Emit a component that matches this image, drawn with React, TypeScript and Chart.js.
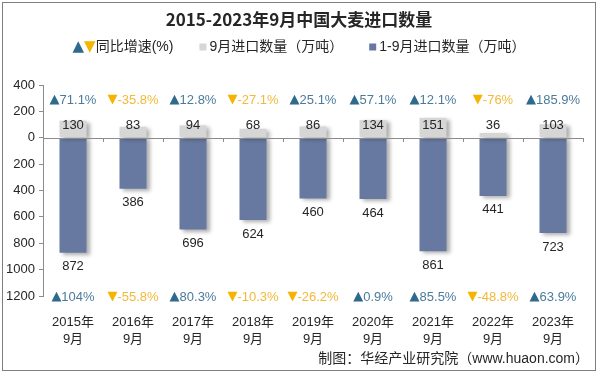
import React, { useEffect, useRef } from 'react';
import { Chart, registerables } from 'chart.js';

Chart.register(...registerables);

const years = ['2015年', '2016年', '2017年', '2018年', '2019年', '2020年', '2021年', '2022年', '2023年'];
const monthLabel = '9月';
const septImports = [130, 83, 94, 68, 86, 134, 151, 36, 103];
const cumImports = [872, 386, 696, 624, 460, 464, 861, 441, 723];
const septYoY = [71.1, -35.8, 12.8, -27.1, 25.1, 57.1, 12.1, -76, 185.9];
const cumYoY = [104, -55.8, 80.3, -10.3, -26.2, 0.9, 85.5, -48.8, 63.9];
const yMin = -1200;
const yMax = 400;
const yStep = 200;

const titleText = '2015-2023年9月中国大麦进口数量';
const legendYoY = '同比增速(%)';
const legendSept = '9月进口数量（万吨）';
const legendCum = '1-9月进口数量（万吨）';
const sourceText = '制图：华经产业研究院（www.huaon.com）';

const FONT = '"Liberation Sans", "Noto Sans CJK SC", sans-serif';
const TRI_FONT = '"DejaVu Sans", sans-serif';
const GRAY_BAR = '#d6d6d6';
const BLUE_BAR = '#6879a1';
const UP_TRI = '#2f6a8e';
const UP_TXT = '#4b7b9b';
const DN_TRI = '#f5b400';
const DN_TXT = '#f2b93a';
const TEXT = '#262626';

function drawYoY(ctx: CanvasRenderingContext2D, x: number, y: number, v: number) {
  const up = v >= 0;
  const tri = up ? '▲' : '▼';
  const txt = `${v}%`;
  ctx.font = `13px ${TRI_FONT}`;
  const wTri = ctx.measureText(tri).width;
  ctx.font = `13px ${FONT}`;
  const wTxt = ctx.measureText(txt).width;
  const start = x - (wTri + wTxt) / 2;
  ctx.textAlign = 'left';
  ctx.textBaseline = 'middle';
  ctx.font = `13px ${TRI_FONT}`;
  ctx.fillStyle = up ? UP_TRI : DN_TRI;
  ctx.fillText(tri, start, y);
  ctx.font = `13px ${FONT}`;
  ctx.fillStyle = up ? UP_TXT : DN_TXT;
  ctx.fillText(txt, start + wTri, y);
}

const overlay = {
  id: 'overlay',
  beforeDatasetsDraw(chart: any) {
    const ctx = chart.ctx;
    ctx.save();
    ctx.shadowColor = 'rgba(0,0,0,0.32)';
    ctx.shadowBlur = 4;
    ctx.shadowOffsetX = 3;
    ctx.shadowOffsetY = 2;
  },
  afterDatasetsDraw(chart: any) {
    const ctx = chart.ctx as CanvasRenderingContext2D;
    ctx.restore();
    const xs = chart.scales.x;
    const ys = chart.scales.y;
    const area = chart.chartArea;
    const y0 = ys.getPixelForValue(0);
    ctx.save();
    ctx.strokeStyle = '#8c8c8c';
    ctx.lineWidth = 1;
    ctx.beginPath();
    ctx.moveTo(area.left, Math.round(y0) + 0.5);
    ctx.lineTo(area.right, Math.round(y0) + 0.5);
    const half = (xs.getPixelForValue(1) - xs.getPixelForValue(0)) / 2;
    for (let i = 0; i < years.length; i++) {
      const bx = Math.round(xs.getPixelForValue(i) + half) + 0.5;
      ctx.moveTo(bx, Math.round(y0));
      ctx.lineTo(bx, Math.round(y0) + 4);
    }
    ctx.stroke();
    ctx.restore();

    ctx.save();
    for (let i = 0; i < years.length; i++) {
      const cx = xs.getPixelForValue(i);
      ctx.font = `13px ${FONT}`;
      ctx.fillStyle = TEXT;
      ctx.textAlign = 'center';
      ctx.textBaseline = 'middle';
      ctx.fillText(String(septImports[i]), cx, y0 - 12);
      ctx.fillText(String(cumImports[i]), cx, ys.getPixelForValue(-cumImports[i]) + 14);
      drawYoY(ctx, cx, area.top + 15, septYoY[i]);
      drawYoY(ctx, cx, area.bottom + 1, cumYoY[i]);
    }
    ctx.restore();
  },
  afterDraw(chart: any) {
    const ctx = chart.ctx as CanvasRenderingContext2D;
    const W = chart.width;
    const H = chart.height;
    ctx.save();
    ctx.strokeStyle = '#7f7f7f';
    ctx.lineWidth = 1;
    ctx.strokeRect(2.5, 2.5, W - 5, H - 5);
    // title
    ctx.fillStyle = TEXT;
    ctx.font = `bold 17px "Noto Sans CJK SC", ${FONT}`;
    ctx.textAlign = 'center';
    ctx.textBaseline = 'middle';
    ctx.fillText(titleText, W / 2, 20);
    // legend
    ctx.textAlign = 'left';
    const ly = 47;
    ctx.font = `15px ${TRI_FONT}`;
    const triW = ctx.measureText('▲').width;
    ctx.font = `14px ${FONT}`;
    const sq = 7;
    const gap = 26;
    const w1 = triW * 2 + ctx.measureText(legendYoY).width;
    const w2 = sq + 3 + ctx.measureText(legendSept).width;
    const w3 = sq + 3 + ctx.measureText(legendCum).width;
    let lx = W / 2 - (w1 + w2 + w3 + gap * 2) / 2;
    ctx.font = `15px ${TRI_FONT}`;
    ctx.fillStyle = UP_TRI;
    ctx.fillText('▲', lx, ly);
    ctx.fillStyle = DN_TRI;
    ctx.fillText('▼', lx + triW, ly);
    ctx.font = `14px ${FONT}`;
    ctx.fillStyle = TEXT;
    ctx.fillText(legendYoY, lx + triW * 2, ly);
    lx += w1 + gap;
    ctx.fillStyle = GRAY_BAR;
    ctx.fillRect(lx, ly - sq / 2, sq, sq);
    ctx.fillStyle = TEXT;
    ctx.fillText(legendSept, lx + sq + 3, ly);
    lx += w2 + gap;
    ctx.fillStyle = BLUE_BAR;
    ctx.fillRect(lx, ly - sq / 2, sq, sq);
    ctx.fillStyle = TEXT;
    ctx.fillText(legendCum, lx + sq + 3, ly);
    // source
    ctx.font = `14px ${FONT}`;
    ctx.textAlign = 'right';
    ctx.fillStyle = TEXT;
    ctx.fillText(sourceText, 589, 359);
    ctx.restore();
  },
};

export default function App() {
  const ref = useRef<HTMLCanvasElement | null>(null);
  useEffect(() => {
    document.body.style.margin = '0';
    if (!ref.current) return;
    const chart = new Chart(ref.current, {
      type: 'bar',
      data: {
        labels: years.map((y) => [y, monthLabel]),
        datasets: [
          {
            label: legendSept,
            data: septImports,
            backgroundColor: GRAY_BAR,
            barPercentage: 0.45,
            categoryPercentage: 1,
          },
          {
            label: legendCum,
            data: cumImports.map((v) => -v),
            backgroundColor: BLUE_BAR,
            barPercentage: 0.45,
            categoryPercentage: 1,
          },
        ],
      },
      options: {
        animation: false,
        responsive: false,
        maintainAspectRatio: false,
        layout: { padding: { top: 85, right: 15, left: 4, bottom: 0 } },
        plugins: { legend: { display: false }, tooltip: { enabled: false }, title: { display: false } },
        scales: {
          x: {
            stacked: true,
            grid: { display: false },
            border: { display: false },
            ticks: { color: TEXT, font: { size: 13, family: FONT, lineHeight: 1.3 }, padding: 10, maxRotation: 0 },
            afterFit: (s: any) => { s.height = 77; },
          },
          y: {
            stacked: true,
            min: yMin,
            max: yMax,
            grid: { drawOnChartArea: false, drawTicks: true, tickLength: 4, color: '#8c8c8c' },
            border: { display: true, color: '#8c8c8c' },
            ticks: {
              stepSize: yStep,
              color: TEXT,
              font: { size: 13, family: FONT },
              padding: 4,
              callback: (v: any) => String(Math.abs(Number(v))),
            },
            afterFit: (s: any) => { s.width = 39; },
          },
        },
      },
      plugins: [overlay],
    });
    return () => chart.destroy();
  }, []);
  return (
    <div style={{ width: 598, height: 373, background: '#fff' }}>
      <canvas ref={ref} width={598} height={373} style={{ display: 'block' }} />
    </div>
  );
}
